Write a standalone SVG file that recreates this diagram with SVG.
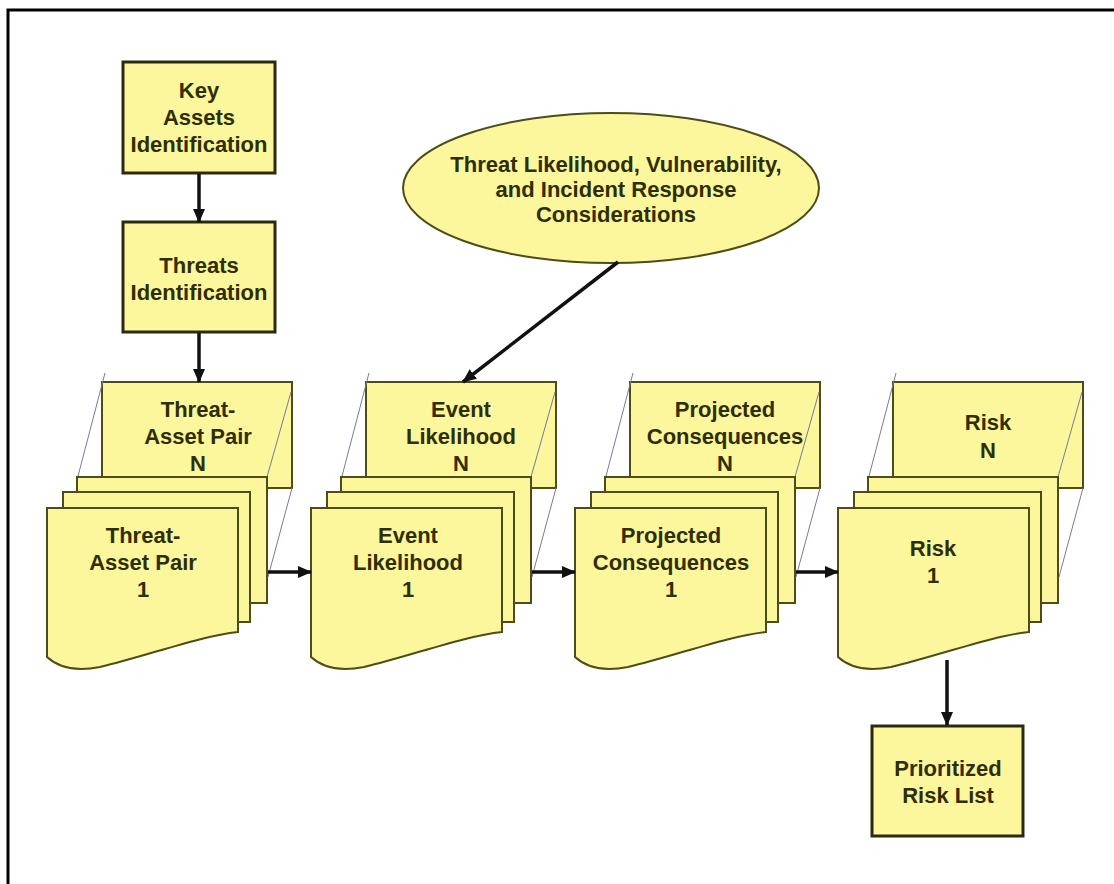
<svg xmlns="http://www.w3.org/2000/svg" width="1114" height="884" viewBox="0 0 1114 884">
<defs>
<style>
.box{fill:#FCF69C;stroke:#2a2a10;stroke-width:3}
.sheet{fill:#FCF69C;stroke:#4d4d1a;stroke-width:2}
.persp{stroke:#7a7a99;stroke-width:1;fill:none}
.conn{stroke:#111;stroke-width:3.5;fill:none}
text{font-family:"Liberation Sans",Arial,sans-serif;font-weight:bold;font-size:22px;fill:#2e2e00;text-anchor:middle}
</style>
<marker id="ah" markerUnits="userSpaceOnUse" markerWidth="14" markerHeight="12" refX="13" refY="6" orient="auto">
<path d="M0,0 L14,6 L0,12 Z" fill="#111"/>
</marker>
</defs>
<rect x="0" y="0" width="1114" height="884" fill="#fff"/>
<path d="M8,884 V10 H1114" fill="none" stroke="#000" stroke-width="3"/>

<g id="key-assets">
<rect class="box" x="123" y="62" width="152" height="111"/>
<text x="199" y="98">Key</text>
<text x="199" y="125">Assets</text>
<text x="199" y="152">Identification</text>
</g>

<g id="threats-identification">
<rect class="box" x="123" y="222" width="152" height="110"/>
<text x="199" y="273">Threats</text>
<text x="199" y="300">Identification</text>
</g>

<g id="considerations">
<ellipse cx="611" cy="188" rx="208" ry="75" fill="#FCF69C" stroke="#4d4d1a" stroke-width="2"/>
<text x="616" y="172">Threat Likelihood, Vulnerability,</text>
<text x="616" y="197">and Incident Response</text>
<text x="616" y="222">Considerations</text>
</g>

<g id="threat-asset-pair" transform="translate(47,0)">
<rect class="sheet" x="55" y="382" width="190" height="106"/>
<line class="persp" x1="58" y1="373" x2="30" y2="480"/>
<line class="persp" x1="244" y1="392" x2="220" y2="477"/>
<line class="persp" x1="245" y1="488" x2="221" y2="577"/>
<text x="151" y="417">Threat-</text>
<text x="151" y="444">Asset Pair</text>
<text x="151" y="471">N</text>
<rect class="sheet" x="30" y="477" width="190" height="126"/>
<rect class="sheet" x="16" y="492" width="187" height="130"/>
<path class="sheet" d="M0,508 H191 V632 C153,636 103,655 53,667 C28,672 11,667 0,657 Z"/>
<text x="96" y="543">Threat-</text>
<text x="96" y="570">Asset Pair</text>
<text x="96" y="597">1</text>
</g>

<g id="event-likelihood" transform="translate(311,0)">
<rect class="sheet" x="55" y="382" width="190" height="106"/>
<line class="persp" x1="58" y1="373" x2="30" y2="480"/>
<line class="persp" x1="244" y1="392" x2="220" y2="477"/>
<line class="persp" x1="245" y1="488" x2="221" y2="577"/>
<text x="150" y="417">Event</text>
<text x="150" y="444">Likelihood</text>
<text x="150" y="471">N</text>
<rect class="sheet" x="30" y="477" width="190" height="126"/>
<rect class="sheet" x="16" y="492" width="187" height="130"/>
<path class="sheet" d="M0,508 H191 V632 C153,636 103,655 53,667 C28,672 11,667 0,657 Z"/>
<text x="97" y="543">Event</text>
<text x="97" y="570">Likelihood</text>
<text x="97" y="597">1</text>
</g>

<g id="projected-consequences" transform="translate(575,0)">
<rect class="sheet" x="55" y="382" width="190" height="106"/>
<line class="persp" x1="58" y1="373" x2="30" y2="480"/>
<line class="persp" x1="244" y1="392" x2="220" y2="477"/>
<line class="persp" x1="245" y1="488" x2="221" y2="577"/>
<text x="150" y="417">Projected</text>
<text x="150" y="444">Consequences</text>
<text x="150" y="471">N</text>
<rect class="sheet" x="30" y="477" width="190" height="126"/>
<rect class="sheet" x="16" y="492" width="187" height="130"/>
<path class="sheet" d="M0,508 H191 V632 C153,636 103,655 53,667 C28,672 11,667 0,657 Z"/>
<text x="96" y="543">Projected</text>
<text x="96" y="570">Consequences</text>
<text x="96" y="597">1</text>
</g>

<g id="risk" transform="translate(838,0)">
<rect class="sheet" x="55" y="382" width="190" height="106"/>
<line class="persp" x1="58" y1="373" x2="30" y2="480"/>
<line class="persp" x1="244" y1="392" x2="220" y2="477"/>
<line class="persp" x1="245" y1="488" x2="221" y2="577"/>
<text x="150" y="430">Risk</text>
<text x="150" y="458">N</text>
<rect class="sheet" x="30" y="477" width="190" height="126"/>
<rect class="sheet" x="16" y="492" width="187" height="130"/>
<path class="sheet" d="M0,508 H191 V632 C153,636 103,655 53,667 C28,672 11,667 0,657 Z"/>
<text x="95" y="556">Risk</text>
<text x="95" y="583">1</text>
</g>

<g id="prioritized-risk-list">
<rect class="box" x="872" y="726" width="151" height="110"/>
<text x="948" y="776">Prioritized</text>
<text x="948" y="803">Risk List</text>
</g>

<g id="connectors">
<line class="conn" x1="199" y1="174" x2="199" y2="222" marker-end="url(#ah)"/>
<line class="conn" x1="199" y1="333" x2="199" y2="382" marker-end="url(#ah)"/>
<line class="conn" x1="618" y1="262" x2="463" y2="382" marker-end="url(#ah)"/>
<line class="conn" x1="268" y1="572" x2="311" y2="572" marker-end="url(#ah)"/>
<line class="conn" x1="532" y1="572" x2="575" y2="572" marker-end="url(#ah)"/>
<line class="conn" x1="796" y1="572" x2="838" y2="572" marker-end="url(#ah)"/>
<line class="conn" x1="947" y1="660" x2="947" y2="725" marker-end="url(#ah)"/>
</g>
</svg>
